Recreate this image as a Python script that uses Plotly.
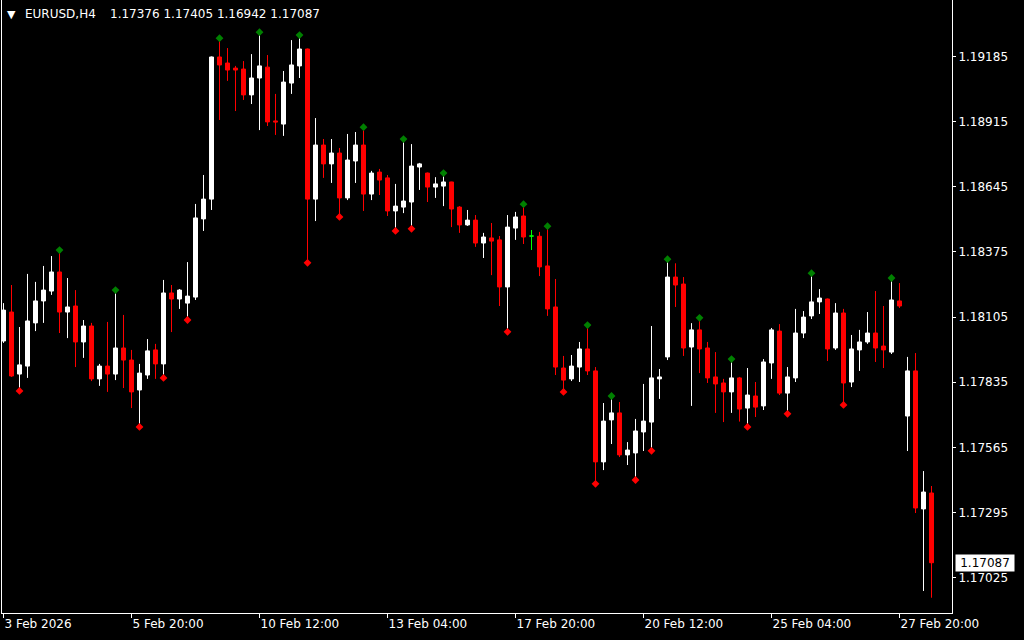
import plotly.graph_objects as go
from datetime import datetime, timedelta

# ---------------- data ----------------
symbol_label = "EURUSD,H4"
opens = [1.18006, 1.18126, 1.17869, 1.17902, 1.18081, 1.18172, 1.18213, 1.18292, 1.18126, 1.18151,
         1.18002, 1.18068, 1.17849, 1.17902, 1.17869, 1.17977, 1.17927, 1.17803, 1.17865, 1.17969,
         1.17911, 1.18205, 1.18180, 1.18163, 1.18188, 1.18512, 1.18594, 1.19183, 1.19158, 1.19137,
         1.19133, 1.19026, 1.19096, 1.19141, 1.18918, 1.18905, 1.19075, 1.19146, 1.19216, 1.18594,
         1.18818, 1.18740, 1.18785, 1.18599, 1.18752, 1.18818, 1.18615, 1.18706, 1.18682, 1.18545,
         1.18561, 1.18582, 1.18727, 1.18702, 1.18644, 1.18648, 1.18665, 1.18561, 1.18487, 1.18507,
         1.18412, 1.18433, 1.18425, 1.18230, 1.18474, 1.18524, 1.18441, 1.18440, 1.18317, 1.18147,
         1.17894, 1.17849, 1.17898, 1.17973, 1.17882, 1.17505, 1.17679, 1.17708, 1.17534, 1.17542,
         1.17629, 1.17670, 1.17849, 1.17940, 1.18271, 1.18242, 1.17981, 1.18052, 1.17977, 1.17857,
         1.17832, 1.17795, 1.17853, 1.17728, 1.17778, 1.17737, 1.17915, 1.18047, 1.17790, 1.17853,
         1.18039, 1.18110, 1.18168, 1.18180, 1.17977, 1.18122, 1.17836, 1.17969, 1.18002, 1.18039,
         1.17985, 1.17960, 1.18172, 1.17695, 1.17882, 1.17310, 1.17376]
highs = [1.18163, 1.18238, 1.18064, 1.18284, 1.18251, 1.18317, 1.18358, 1.18371, 1.18267, 1.18217,
         1.18093, 1.18081, 1.17911, 1.18085, 1.18205, 1.18114, 1.17969, 1.17911, 1.18014, 1.17994,
         1.18259, 1.18238, 1.18221, 1.18333, 1.18574, 1.18694, 1.19185, 1.19249, 1.19220, 1.19146,
         1.19166, 1.19195, 1.19274, 1.19191, 1.19030, 1.19125, 1.19253, 1.19262, 1.19218, 1.18930,
         1.18843, 1.18843, 1.18806, 1.18864, 1.18872, 1.18880, 1.18711, 1.18719, 1.18694, 1.18657,
         1.18831, 1.18822, 1.18744, 1.18704, 1.18685, 1.18690, 1.18666, 1.18565, 1.18549, 1.18528,
         1.18454, 1.18495, 1.18441, 1.18528, 1.18541, 1.18561, 1.18466, 1.18458, 1.18470, 1.18263,
         1.17944, 1.17948, 1.18002, 1.18060, 1.17898, 1.17749, 1.17766, 1.17753, 1.17587, 1.17683,
         1.17828, 1.18068, 1.17890, 1.18333, 1.18328, 1.18271, 1.18080, 1.18090, 1.18002, 1.17960,
         1.17849, 1.17919, 1.17857, 1.17894, 1.17836, 1.17931, 1.18060, 1.18076, 1.17898, 1.18139,
         1.18130, 1.18275, 1.18221, 1.18182, 1.18163, 1.18139, 1.18031, 1.18052, 1.18126, 1.18213,
         1.18151, 1.18255, 1.18246, 1.17940, 1.17956, 1.17467, 1.17405]
lows = [1.17998, 1.17857, 1.17811, 1.17853, 1.18047, 1.18081, 1.18197, 1.18039, 1.18018, 1.17898,
        1.17936, 1.17840, 1.17820, 1.17795, 1.17844, 1.17811, 1.17728, 1.17662, 1.17849, 1.17849,
        1.17865, 1.18043, 1.18139, 1.18105, 1.18176, 1.18462, 1.18549, 1.18922, 1.19084, 1.18959,
        1.19005, 1.18988, 1.18880, 1.18897, 1.18860, 1.18856, 1.19030, 1.19096, 1.18342, 1.18503,
        1.18682, 1.18661, 1.18532, 1.18590, 1.18661, 1.18545, 1.18590, 1.18611, 1.18524, 1.18474,
        1.18536, 1.18483, 1.18632, 1.18582, 1.18599, 1.18565, 1.18478, 1.18454, 1.18483, 1.18396,
        1.18350, 1.18279, 1.18151, 1.18056, 1.18425, 1.18408, 1.18383, 1.18275, 1.18110, 1.17865,
        1.17807, 1.17840, 1.17836, 1.17865, 1.17426, 1.17471, 1.17579, 1.17525, 1.17492, 1.17442,
        1.17550, 1.17563, 1.17766, 1.17927, 1.18147, 1.17944, 1.17737, 1.17873, 1.17832, 1.17708,
        1.17670, 1.17708, 1.17672, 1.17662, 1.17691, 1.17720, 1.17849, 1.17782, 1.17716, 1.17836,
        1.18018, 1.18097, 1.18118, 1.17923, 1.17969, 1.17753, 1.17815, 1.17882, 1.17994, 1.17919,
        1.17894, 1.17952, 1.18143, 1.17550, 1.17293, 1.16970, 1.16942]
closes = [1.18134, 1.17861, 1.17907, 1.18089, 1.18172, 1.18217, 1.18292, 1.18126, 1.18147, 1.18002,
          1.18068, 1.17849, 1.17902, 1.17869, 1.17977, 1.17927, 1.17795, 1.17873, 1.17965, 1.17911,
          1.18205, 1.18180, 1.18217, 1.18192, 1.18516, 1.18594, 1.19183, 1.19150, 1.19129, 1.19129,
          1.19026, 1.19096, 1.19146, 1.18914, 1.18914, 1.19079, 1.19150, 1.19216, 1.18594, 1.18818,
          1.18740, 1.18785, 1.18599, 1.18756, 1.18818, 1.18615, 1.18702, 1.18673, 1.18545, 1.18565,
          1.18586, 1.18731, 1.18740, 1.18644, 1.18657, 1.18665, 1.18553, 1.18487, 1.18507, 1.18412,
          1.18437, 1.18420, 1.18230, 1.18478, 1.18520, 1.18437, 1.18441, 1.18313, 1.18139, 1.17898,
          1.17844, 1.17902, 1.17973, 1.17882, 1.17505, 1.17674, 1.17708, 1.17534, 1.17554, 1.17633,
          1.17674, 1.17853, 1.17857, 1.18271, 1.18238, 1.17977, 1.18052, 1.17973, 1.17853, 1.17828,
          1.17795, 1.17853, 1.17724, 1.17782, 1.17732, 1.17919, 1.18052, 1.17790, 1.17857, 1.18039,
          1.18105, 1.18168, 1.18184, 1.17973, 1.18122, 1.17832, 1.17973, 1.18002, 1.18039, 1.17977,
          1.17969, 1.18176, 1.18151, 1.17882, 1.17314, 1.17380, 1.17087]

# bars carrying a fractal marker (indices into the series above)
up_fractal_bars = [7, 14, 27, 32, 37, 45, 50, 55, 65, 68, 73, 76, 83, 87, 91, 101, 111]
down_fractal_bars = [2, 17, 20, 23, 38, 42, 49, 51, 63, 70, 74, 79, 81, 93, 98, 105]

price_ticks = [1.19185, 1.18915, 1.18645, 1.18375, 1.18105, 1.17835, 1.17565, 1.17295, 1.17025]
tick_times = ["2026-02-03 04:00", "2026-02-05 20:00", "2026-02-10 12:00", "2026-02-13 04:00",
              "2026-02-17 20:00", "2026-02-20 12:00", "2026-02-25 04:00", "2026-02-27 20:00"]
tick_labels = ["3 Feb 2026", "5 Feb 20:00", "10 Feb 12:00", "13 Feb 04:00",
               "17 Feb 20:00", "20 Feb 12:00", "25 Feb 04:00", "27 Feb 20:00"]


# H4 bar open times (trading days only)
def h4_times(start, n):
    out, t = [], start
    while len(out) < n:
        if t.weekday() < 5:
            out.append(t.strftime("%Y-%m-%d %H:%M"))
        t += timedelta(hours=4)
    return out


times = h4_times(datetime(2026, 2, 3, 4, 0), len(opens))

# ---------------- style ----------------
FONT = "DejaVu Sans"
BULL = "#FFFFFF"
BEAR = "#FF0000"
DOJI = "#00FF00"
UPF = "#008000"
MARK_OFF = 0.00012

normal = [i for i in range(len(opens)) if opens[i] != closes[i]]
doji = [i for i in range(len(opens)) if opens[i] == closes[i]]

fig = go.Figure()
fig.add_trace(go.Candlestick(
    x=[times[i] for i in normal],
    open=[opens[i] for i in normal], high=[highs[i] for i in normal],
    low=[lows[i] for i in normal], close=[closes[i] for i in normal],
    increasing=dict(line=dict(color=BULL, width=1), fillcolor=BULL),
    decreasing=dict(line=dict(color=BEAR, width=1), fillcolor=BEAR),
    whiskerwidth=0, hoverinfo="skip", showlegend=False))
fig.add_trace(go.Candlestick(
    x=[times[i] for i in doji],
    open=[opens[i] for i in doji], high=[highs[i] for i in doji],
    low=[lows[i] for i in doji], close=[closes[i] for i in doji],
    increasing=dict(line=dict(color=DOJI, width=1), fillcolor=DOJI),
    decreasing=dict(line=dict(color=DOJI, width=1), fillcolor=DOJI),
    whiskerwidth=0, hoverinfo="skip", showlegend=False))

fig.add_trace(go.Scatter(
    x=[times[i] for i in up_fractal_bars], y=[highs[i] + MARK_OFF for i in up_fractal_bars],
    mode="markers", marker=dict(symbol="diamond", size=6, color=UPF, line=dict(width=0)),
    hoverinfo="skip", showlegend=False))
fig.add_trace(go.Scatter(
    x=[times[i] for i in down_fractal_bars], y=[lows[i] - MARK_OFF for i in down_fractal_bars],
    mode="markers", marker=dict(symbol="diamond", size=6, color=BEAR, line=dict(width=0)),
    hoverinfo="skip", showlegend=False))

fig.update_layout(
    width=1024, height=640,
    margin=dict(l=2, r=72, t=0, b=27, pad=0),
    paper_bgcolor="black", plot_bgcolor="black",
    font=dict(family=FONT, size=12, color="white"),
    boxgap=0.5, boxgroupgap=0, boxmode="overlay",
    showlegend=False, hovermode=False,
    xaxis=dict(type="category", categoryorder="array", categoryarray=times,
               range=[-0.1875, 118.5625], rangeslider=dict(visible=False),
               showgrid=False, zeroline=False, showline=True, linecolor="white", linewidth=1,
               ticks="outside", ticklen=4, tickcolor="white", tickwidth=1,
               tickvals=tick_times, ticktext=tick_labels,
               ticklabelposition="outside right",
               tickfont=dict(family=FONT, size=12, color="white")),
    yaxis=dict(side="right", range=[1.168787, 1.194192],
               showgrid=False, zeroline=False, showline=True, mirror=True,
               linecolor="white", linewidth=1,
               ticks="outside", ticklen=3, tickcolor="white", tickwidth=1,
               tickvals=price_ticks, ticktext=[f"{v:.5f}" for v in price_ticks],
               tickfont=dict(family=FONT, size=12, color="white")),
)

# header text (top-left)
fig.add_annotation(xref="paper", yref="paper", x=0, y=1, xanchor="left", yanchor="top",
                   xshift=3, yshift=-6, text="▼", showarrow=False,
                   font=dict(family=FONT, size=11, color="white"))
fig.add_annotation(xref="paper", yref="paper", x=0, y=1, xanchor="left", yanchor="top",
                   xshift=21, yshift=-5, text=symbol_label, showarrow=False,
                   font=dict(family=FONT, size=12, color="white"))
fig.add_annotation(xref="paper", yref="paper", x=0, y=1, xanchor="left", yanchor="top",
                   xshift=106, yshift=-5,
                   text=" ".join(f"{v:.5f}" for v in (opens[-1], highs[-1], lows[-1], closes[-1])),
                   showarrow=False, font=dict(family=FONT, size=12, color="white"))

# current price label on the price scale
fig.add_annotation(xref="paper", yref="y", x=1, y=closes[-1], xanchor="left", yanchor="middle",
                   xshift=3, text=f"{closes[-1]:.5f}", showarrow=False,
                   bgcolor="white", borderpad=1, width=56,
                   font=dict(family=FONT, size=12, color="black"))

fig.write_html("out.html", config={"displayModeBar": False, "staticPlot": True},
               post_script="document.body.style.margin='0';document.body.style.overflow='hidden';")
